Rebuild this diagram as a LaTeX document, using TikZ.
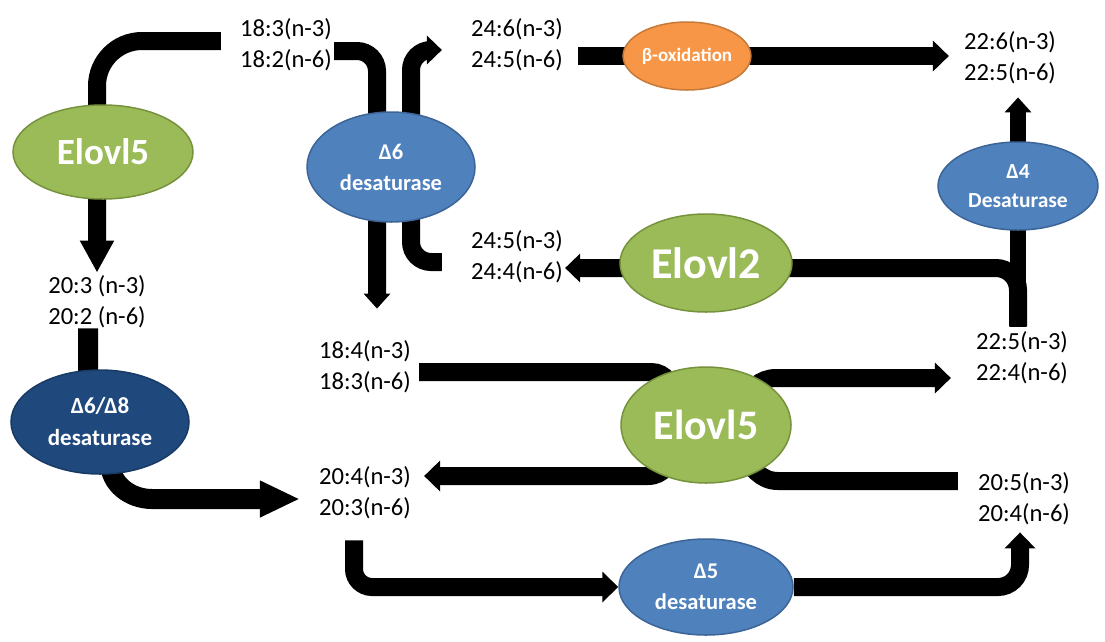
\documentclass[tikz,border=0pt]{standalone}
\usepackage{fontspec}
\setmainfont{Carlito}
\usetikzlibrary{shapes.geometric,arrows.meta,calc}
\pgfdeclarelayer{bg}
\pgfsetlayers{bg,main}

\definecolor{elogreen}{RGB}{155,187,89}
\definecolor{elogreenline}{RGB}{118,146,60}
\definecolor{desblue}{RGB}{79,129,189}
\definecolor{desblueline}{RGB}{60,100,150}
\definecolor{desdark}{RGB}{31,73,125}
\definecolor{desdarkline}{RGB}{24,58,100}
\definecolor{betaorange}{RGB}{247,150,70}
\definecolor{betaorangeline}{RGB}{200,120,55}

\begin{document}
\begin{tikzpicture}[x=1pt,y=-1pt,
  lipid/.style={font=\fontsize{24.6}{31}\selectfont, align=center, inner sep=0pt},
  enzyme/.style={ellipse, inner sep=0pt, line width=1.5pt, text=white, align=center},
  elo/.style={enzyme, fill=elogreen, draw=elogreenline},
  des/.style={enzyme, fill=desblue, draw=desblueline, font=\bfseries\fontsize{22.5}{31}\selectfont},
  bar/.style={line width=18pt, black},
  tip/.style={-{Triangle[width=30pt,length=16pt]}},
  bigtip/.style={-{Triangle[width=34pt,length=40pt]}},
]
\useasboundingbox (0,0) rectangle (1105,641);

% fatty acid labels
\node[lipid] (t18a) at (286,45)  {18:3(n-3)\\18:2(n-6)};
\node[lipid] (t24a) at (517,45)  {24:6(n-3)\\24:5(n-6)};
\node[lipid] (t22a) at (1010,58) {22:6(n-3)\\22:5(n-6)};
\node[lipid] (t24b) at (517,257) {24:5(n-3)\\24:4(n-6)};
\node[lipid] (t20a) at (97,302)  {20:3 (n-3)\\20:2 (n-6)};
\node[lipid] (t18b) at (365,367) {18:4(n-3)\\18:3(n-6)};
\node[lipid] (t22b) at (1022,358){22:5(n-3)\\22:4(n-6)};
\node[lipid] (t20b) at (365,493) {20:4(n-3)\\20:3(n-6)};
\node[lipid] (t20c) at (1024,499){20:5(n-3)\\20:4(n-6)};

% enzymes
\node[elo, minimum width=180pt, minimum height=94pt, font=\bfseries\fontsize{37}{40}\selectfont] (e5a) at (103,152) {Elovl5};
\node[des, minimum width=168pt, minimum height=110pt] (d6) at (391,167) {Δ6\\desaturase};
\node[enzyme, fill=betaorange, draw=betaorangeline, minimum width=114pt, minimum height=68pt, font=\bfseries\fontsize{19}{21}\selectfont] (beta) at (687,56) {β-oxidation};
\node[des, minimum width=160pt, minimum height=88pt, font=\bfseries\fontsize{21.5}{29}\selectfont] (d4) at (1018,186) {Δ4\\Desaturase};
\node[elo, minimum width=172pt, minimum height=98pt, font=\bfseries\fontsize{44}{46}\selectfont] (e2) at (706,263) {Elovl2};
\node[des, fill=desdark, draw=desdarkline, minimum width=178pt, minimum height=104pt, font=\bfseries\fontsize{23}{32}\selectfont] (d68) at (100,422) {Δ6/Δ8\\desaturase};
\node[elo, minimum width=170pt, minimum height=116pt, font=\bfseries\fontsize{42}{44}\selectfont] (e5b) at (706,425) {Elovl5};
\node[des, minimum width=174pt, minimum height=96pt] (d5) at (706,587) {Δ5\\desaturase};

\coordinate (v2) at ($(d6.center)+(20,0)$);
\coordinate (c22) at ($(t22b.north)+(0,-5)$);
\coordinate (d4tip) at ($(t22a.south)+(0,13)$);

\begin{pgfonlayer}{bg}
% 18:3 -> Elovl5 -> 20:3
\draw[bar, rounded corners=45pt, -{Triangle[width=32pt,length=32pt]}]
  ($(t18a.west)+(-19,-4)$) -| ($(t20a.north)+(0,-3)$);
% 18:3 -> delta6 -> 18:4
\draw[bar, rounded corners=20pt, -{Triangle[width=26pt,length=15pt]}]
  ($(t18a.east)+(2,6)$) -| ($(t18b.north)+(12,-32)$);
% 24:5 -> delta6 -> 24:6
\draw[bar, rounded corners=20pt, -{Triangle[width=28pt,length=15pt]}]
  ($(t24b.west)+(-29,5)$) -| (v2) |- ($(t24a.west)+(-29,5)$);
% 24:6 -> beta-oxidation -> 22:6
\draw[bar, tip] ($(t24a.east)+(15,11)$) -- ($(t22a.west)+(-15,-2)$);
% 22:5 -> delta4 -> 22:6
\draw[bar, line width=16pt, -{Triangle[width=26pt,length=15pt]}] (d4.center |- c22) -- (d4.center |- d4tip);
% 22:5 -> Elovl2 -> 24:5
\draw[bar, rounded corners=22pt, -{Triangle[width=28pt,length=15pt]}]
  (d4.center |- c22) |- ($(t24b.east)+(2,11)$);
% 20:2 -> delta6/delta8 -> 20:3
\draw[bar, line width=20pt, bigtip]
  ($(t20a.south)+(-9,0)$) -- ($(d68.center)+(-12,0)$) -- ($(d68.center)+(10,40)$)
  to[out=-90,in=180] ($(d68.center)+(52,77)$) -- ($(t20b.west)+(-19,6)$);
% 18:3 -> Elovl5 -> 22:4
\draw[bar, tip]
  ($(t18b.east)+(8,5)$) -- ($(e5b.center)+(-55,-53)$) to[out=0,in=180] (e5b.center)
  to[out=0,in=180] ($(e5b.center)+(70,-47)$) -- ($(t22b.west)+(-25,20)$);
% 20:5 -> Elovl5 -> 20:4
\draw[bar, tip]
  ($(t20c.west)+(-20,-18)$) -- ($(e5b.center)+(72,56)$) to[out=180,in=0] (e5b.center)
  to[out=180,in=0] ($(e5b.center)+(-58,51)$) -- ($(t20b.east)+(13,-17)$);
% 20:3 -> delta5 -> 20:4
\draw[bar, rounded corners=18pt, tip] ($(t20b.south)+(-11,21)$) |- (d5.west);
\draw[bar, rounded corners=22pt, tip] (d5.east) -| ($(t20c.south)+(-4,7)$);
\end{pgfonlayer}
\end{tikzpicture}
\end{document}
